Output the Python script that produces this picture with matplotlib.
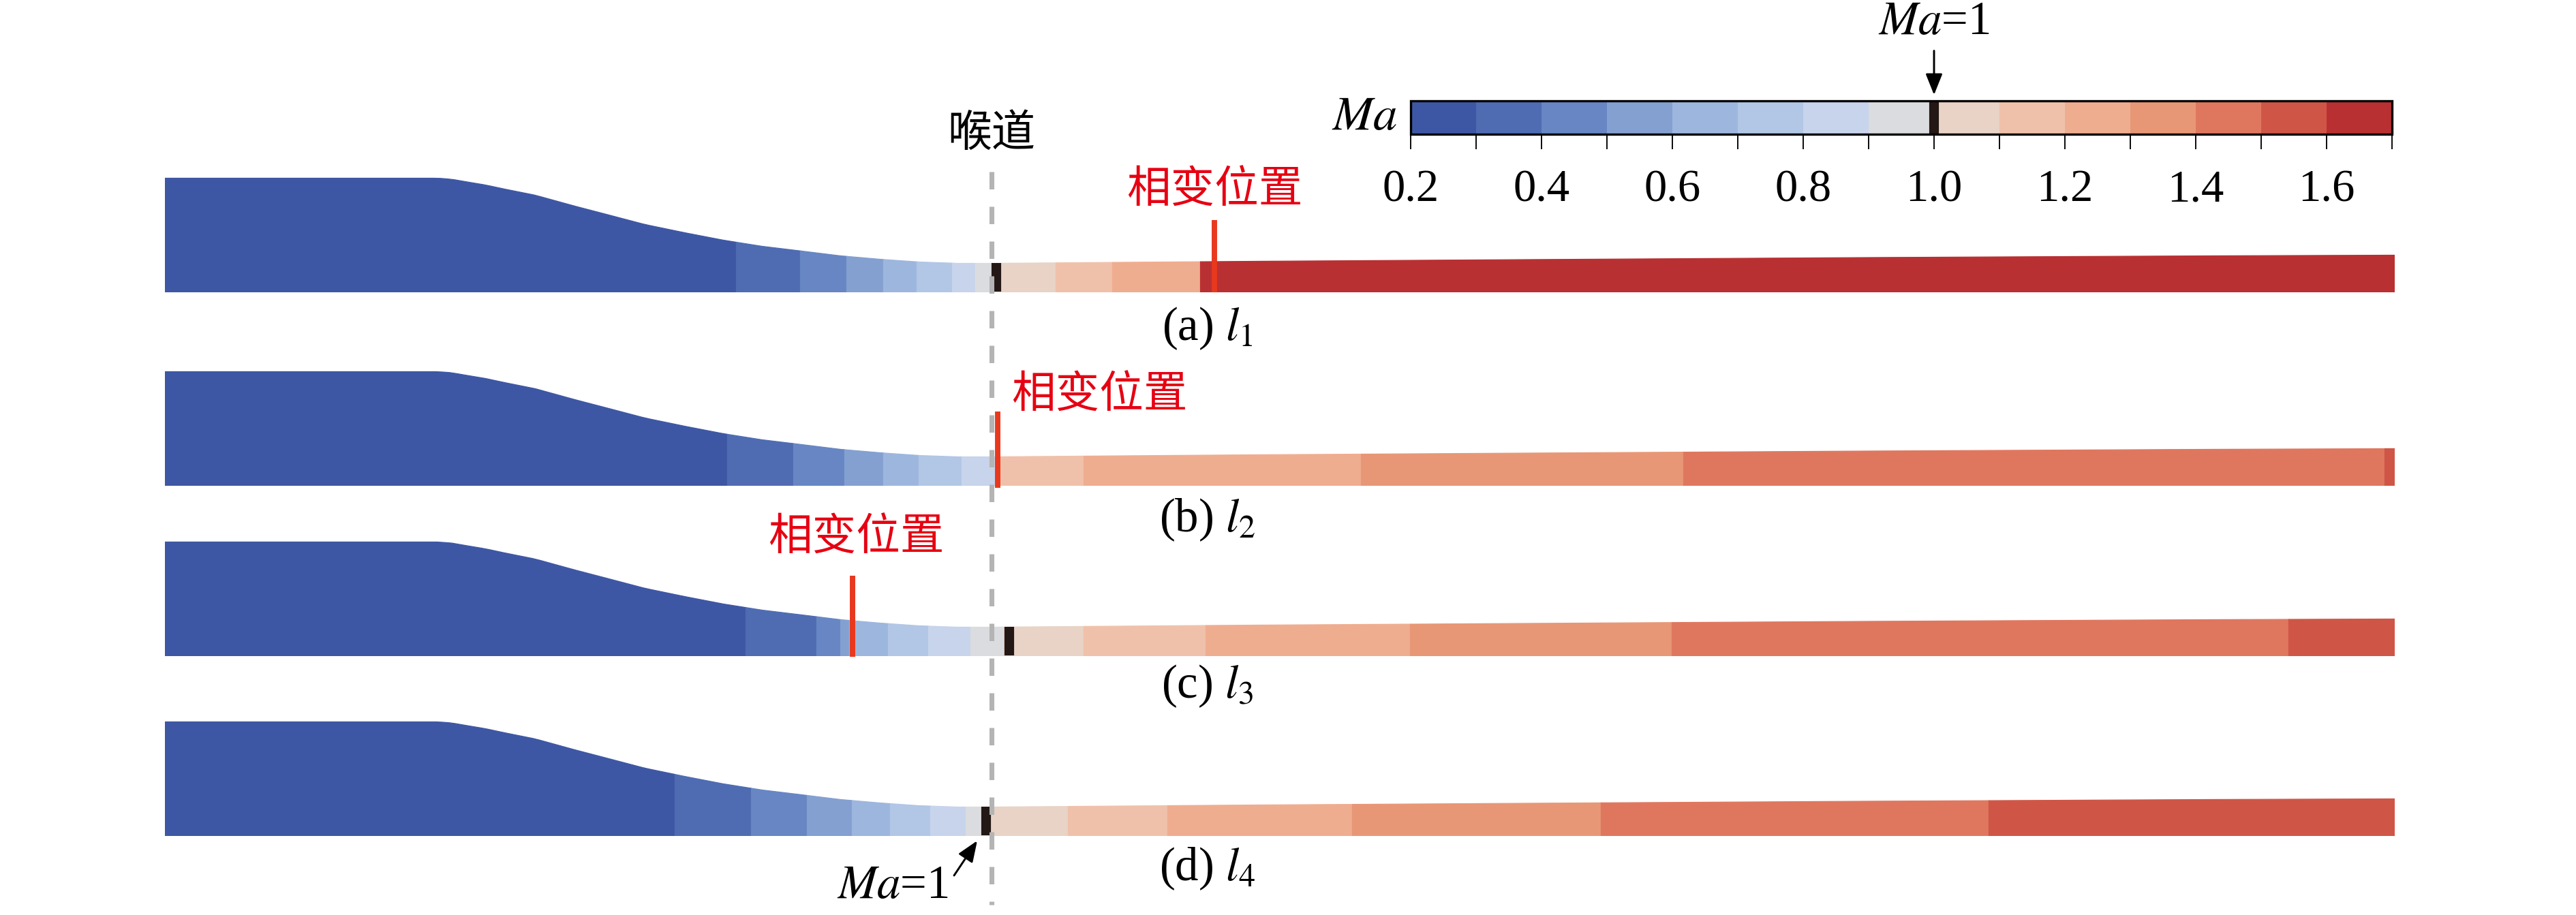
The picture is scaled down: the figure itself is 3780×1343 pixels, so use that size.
import numpy as np
import matplotlib
matplotlib.use('Agg')
import matplotlib.pyplot as plt
from matplotlib.colors import ListedColormap, BoundaryNorm
from matplotlib.colorbar import ColorbarBase
from matplotlib.transforms import blended_transform_factory
from matplotlib.ticker import FixedLocator
from matplotlib.lines import Line2D

plt.rcParams['font.family'] = ['Liberation Serif', 'Noto Sans CJK SC', 'DejaVu Sans']
plt.rcParams['mathtext.fontset'] = 'stix'

# ---------------- data ----------------
ma_bounds = [0.2, 0.3, 0.4, 0.5, 0.6, 0.7, 0.8, 0.9, 1.0, 1.1, 1.2, 1.3, 1.4, 1.5, 1.6, 1.7]
ma_ticks = [0.2, 0.4, 0.6, 0.8, 1.0, 1.2, 1.4, 1.6]
ma_colors = ['#3e57a4', '#4f6cb2', '#6786c3', '#84a0d1', '#9db6de', '#b2c6e5', '#c7d4eb',
             '#dbdcdf', '#e8d3c6', '#f0c1aa', '#efad8f', '#e89776', '#df775f', '#cf5646', '#b93032']

# nozzle wall profile (axial position, height), same for all cases
wall_x = [0, 40.0, 42.0, 44.0, 47.0, 49.8, 54.3, 60.1, 64.7, 70.4, 76.2, 81.9, 87.6, 93.4,
          99.1, 104.9, 110.6, 116.3, 121.3, 160.0, 200.0, 250.0, 300.0, 327.1]
wall_h = [16.7, 16.7, 16.55, 16.2, 15.7, 15.1, 14.2, 12.6, 11.4, 9.9, 8.7, 7.6, 6.7, 6.0,
          5.3, 4.8, 4.4, 4.2, 4.2, 4.5, 4.75, 5.05, 5.3, 5.4]
throat_x = 121.3

case_names = ['(a) $l_1$', '(b) $l_2$', '(c) $l_3$', '(d) $l_4$']

edges_a = [0, 83.8, 93.2, 100.0, 105.4, 110.3, 115.5, 118.9, 121.3, 130.7, 139.0, 151.9, 327.1]
levels_a = [0.2, 0.3, 0.4, 0.5, 0.6, 0.7, 0.8, 0.9, 1.0, 1.1, 1.2, 1.6]

edges_b = [0, 82.5, 92.2, 99.7, 105.4, 110.6, 116.9, 122.1, 134.8, 175.5, 222.8, 325.7, 327.1]
levels_b = [0.2, 0.3, 0.4, 0.5, 0.6, 0.7, 0.8, 1.1, 1.2, 1.3, 1.4, 1.5]

edges_c = [0, 85.2, 95.6, 99.1, 100.4, 106.1, 112.0, 118.2, 123.1, 134.8, 152.7, 182.7, 221.1, 311.6, 327.1]
levels_c = [0.2, 0.3, 0.4, 0.5, 0.6, 0.7, 0.8, 0.9, 1.0, 1.1, 1.2, 1.3, 1.4, 1.5]

edges_d = [0, 74.8, 86.0, 94.2, 100.8, 106.4, 112.3, 117.5, 119.8, 132.5, 147.1, 174.2, 210.7, 267.6, 327.1]
levels_d = [0.2, 0.3, 0.4, 0.5, 0.6, 0.7, 0.8, 0.9, 1.0, 1.1, 1.2, 1.3, 1.4, 1.5]

sonic_x = [122.0, None, 123.9, 120.5]      # Ma = 1 line
phase_x = [154.0, 122.2, 100.9, None]      # phase-change location

# ---------------- figure ----------------
W, H = 3780, 1343
fig = plt.figure(figsize=(W / 300, H / 300), dpi=300)
fig.patch.set_facecolor('white')


def fx(p):
    return p / W


def fy(p):
    return 1 - p / H


cmap = ListedColormap(ma_colors)
norm = BoundaryNorm(ma_bounds, cmap.N)

row_bottoms = [428, 712, 962, 1226]
all_edges = [edges_a, edges_b, edges_c, edges_d]
all_levels = [levels_a, levels_b, levels_c, levels_d]
phase_span = [(-0.1, 10.5), (-0.4, 10.8), (-0.2, 11.7)]
phase_text = [(154.0, 14.8, 'center'), (124.2, 13.1, 'left'), (101.4, 17.2, 'center')]
label_y = [-5.4, -5.1, -4.5, -4.9]

axes = []
for i in range(4):
    ax = fig.add_axes([fx(242), fy(row_bottoms[i]), fx(3271), 180 / H])
    ax.set_xlim(0, 327.1)
    ax.set_ylim(0, 18.0)
    ax.axis('off')
    axes.append(ax)
    for e0, e1, lev in zip(all_edges[i][:-1], all_edges[i][1:], all_levels[i]):
        xs = np.linspace(e0, e1, 80)
        hs = np.interp(xs, wall_x, wall_h)
        c = cmap(norm(lev + 0.05))
        ax.fill_between(xs, 0, hs, facecolor=c, edgecolor=c, lw=0.3, zorder=1)
    if sonic_x[i] is not None:
        s = sonic_x[i]
        ax.plot([s, s], [0, np.interp(s, wall_x, wall_h)], color='#231815', lw=3.4,
                solid_capstyle='butt', zorder=3)
    if phase_x[i] is not None:
        p = phase_x[i]
        lo, hi = phase_span[i]
        ax.plot([p, p], [lo, hi], color='#e8381e', lw=1.9, solid_capstyle='butt',
                zorder=4, clip_on=False)
        tx, ty, ha = phase_text[i]
        ax.text(tx, ty, '相变位置', color='#e60012', fontsize=15.5, ha=ha, va='center',
                family=['Noto Sans CJK SC'])
    ax.text(153.0, label_y[i], case_names[i], fontsize=16.5, ha='center', va='center')

# throat label and dashed line
axes[0].text(throat_x, 23.1, '喉道', fontsize=15.5, ha='center', va='center',
             family=['Noto Sans CJK SC'])
trans = blended_transform_factory(axes[0].transData, fig.transFigure)
fig.add_artist(Line2D([throat_x, throat_x], [fy(252), fy(1328)], transform=trans,
                      color='#b4b4b4', lw=1.7, linestyle=(0, (3.6, 3.6)), zorder=5))

# Ma = 1 annotation in case (d)
axd = axes[3]
axd.text(106.8, -7.5, '$Ma$=1', fontsize=16.5, ha='center', va='center')
axd.annotate('', xy=(119.2, -0.8), xytext=(115.8, -5.9), annotation_clip=False,
             arrowprops=dict(arrowstyle='-|>,head_length=0.45,head_width=0.18', lw=0.7,
                             color='k', mutation_scale=14, shrinkA=0, shrinkB=0))

# ---------------- colorbar ----------------
cax = fig.add_axes([fx(2070), fy(197), fx(1440), 49 / H])
cb = ColorbarBase(cax, cmap=cmap, norm=norm, boundaries=ma_bounds,
                  orientation='horizontal', spacing='proportional')
cb.set_ticks(ma_ticks)
cb.set_ticklabels([f'{t:.1f}' for t in ma_ticks])
cax.xaxis.set_minor_locator(FixedLocator(ma_bounds))
cax.tick_params(which='both', direction='out', length=5.3, width=0.45, labelsize=16, pad=7)
cb.outline.set_linewidth(0.8)
cax.plot([1.0, 1.0], [0, 1], color='#231815', lw=3.4, solid_capstyle='butt')
cax.set_ylim(0, 1)

cax.text(-0.014, 0.5, '$Ma$', transform=cax.transAxes, ha='right', va='center', fontsize=17)
btrans = blended_transform_factory(cax.transData, cax.transAxes)
cax.annotate('', xy=(1.0, 1.18), xytext=(1.0, 2.5), xycoords=btrans, textcoords=btrans,
             annotation_clip=False,
             arrowprops=dict(arrowstyle='-|>,head_length=0.45,head_width=0.18', lw=0.7,
                             color='k', mutation_scale=14, shrinkA=0, shrinkB=0))
cax.text(1.0, 3.35, '$Ma$=1', transform=btrans, ha='center', va='center', fontsize=16.5)

fig.savefig('out.png', dpi=300, facecolor='white')
